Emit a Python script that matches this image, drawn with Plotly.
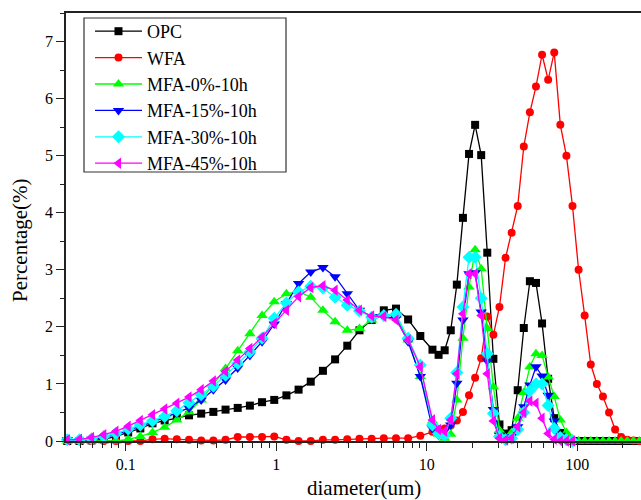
import plotly.graph_objects as go
import math

# particle diameters (um)
diameter = [0.0409, 0.0493, 0.0593, 0.0715, 0.0861, 0.1038, 0.1250, 0.1506, 0.1814, 0.2185,
            0.2633, 0.3172, 0.3821, 0.4603, 0.5545, 0.6680, 0.8048, 0.9696, 1.168, 1.407,
            1.695, 2.042, 2.460, 2.964, 3.571, 4.302, 5.183, 6.244, 7.520, 9.060,
            10.91, 11.98, 13.15, 14.43, 15.84, 17.39, 19.09, 20.95, 22.99, 25.23,
            27.70, 30.40, 33.37, 36.62, 40.20, 44.12, 48.42, 53.15, 58.33, 64.03,
            70.28, 77.13, 84.66, 92.92, 102.0, 111.9, 122.9, 134.9, 148.0, 162.5,
            178.3, 195.7, 214.8, 235.8, 258.8]

opc = [0, 0, 0.01, 0.03, 0.08, 0.15, 0.22, 0.31, 0.36, 0.41,
       0.45, 0.48, 0.51, 0.55, 0.58, 0.62, 0.68, 0.72, 0.80, 0.90,
       1.04, 1.23, 1.43, 1.67, 1.94, 2.12, 2.29, 2.32, 2.13, 1.84,
       1.60, 1.51, 1.59, 1.94, 2.74, 3.91, 5.03, 5.54, 5.01, 3.30,
       1.44, 0.29, 0.13, 0.19, 0.89, 1.98, 2.80, 2.77, 2.06, 1.09,
       0.40, 0.14, 0.04, 0, 0, 0, 0, 0, 0, 0,
       0, 0, 0, 0, 0]

wfa = [0, 0, 0, 0, 0, 0, 0, 0.03, 0.04, 0.03,
       0.02, 0.01, 0.01, 0.02, 0.07, 0.07, 0.07, 0.08, 0.02, 0.0,
       0.0, 0.02, 0.02, 0.03, 0.04, 0.04, 0.05, 0.05, 0.05, 0.09,
       0.16, 0.21, 0.22, 0.27, 0.36, 0.51, 0.80, 1.11, 1.45, 2.18,
       1.86, 2.35, 3.21, 3.65, 4.12, 5.16, 5.76, 6.21, 6.77, 6.33,
       6.81, 5.54, 5.00, 4.12, 3.00, 2.20, 1.34, 1.00, 0.78, 0.50,
       0.20, 0.07, 0.02, 0.01, 0]

mfa0 = [0, 0, 0, 0, 0, 0.03, 0.08, 0.15, 0.24, 0.37,
        0.51, 0.72, 1.00, 1.27, 1.58, 1.88, 2.20, 2.44, 2.58, 2.62,
        2.52, 2.29, 2.09, 1.94, 1.97, 2.12, 2.20, 2.20, 1.77, 1.13,
        0.35, 0.12, 0.05, 0.12, 0.72, 1.80, 2.70, 3.35, 3.02, 1.97,
        0.95, 0.19, 0.05, 0.15, 0.40, 0.85, 1.30, 1.53, 1.50, 1.12,
        0.78, 0.37, 0.15, 0.03, 0, 0, 0, 0, 0, 0,
        0, 0, 0, 0, 0]

mfa15 = [0.02, 0.01, 0.03, 0.06, 0.11, 0.18, 0.26, 0.33, 0.41, 0.49,
         0.58, 0.72, 0.90, 1.07, 1.28, 1.50, 1.74, 2.05, 2.41, 2.76,
         2.96, 3.04, 2.88, 2.58, 2.29, 2.18, 2.18, 2.15, 1.74, 1.13,
         0.22, 0.10, 0.08, 0.28, 1.01, 2.12, 2.93, 2.95, 2.26, 1.40,
         0.55, 0.10, 0.03, 0.08, 0.25, 0.60, 0.98, 1.30, 1.14, 0.80,
         0.35, 0.10, 0.02, 0, None, None, None, None, None, None,
         None, None, None, None, None]

mfa30 = [0.02, 0.02, 0.04, 0.08, 0.13, 0.21, 0.28, 0.35, 0.43, 0.53,
         0.67, 0.81, 0.96, 1.15, 1.36, 1.56, 1.80, 2.15, 2.42, 2.61,
         2.71, 2.68, 2.52, 2.38, 2.28, 2.17, 2.20, 2.22, 1.80, 1.33,
         0.28, 0.13, 0.10, 0.40, 1.20, 2.35, 3.22, 3.22, 2.50, 1.53,
         0.48, 0.08, 0.02, 0.05, 0.20, 0.50, 0.88, 1.00, 1.00, 0.62,
         0.22, 0.06, 0.02, 0, None, None, None, None, None, None,
         None, None, None, None, None]

mfa45 = [0.02, 0.03, 0.06, 0.11, 0.17, 0.26, 0.36, 0.46, 0.56, 0.66,
         0.77, 0.90, 1.05, 1.22, 1.42, 1.62, 1.82, 2.06, 2.29, 2.53,
         2.69, 2.72, 2.64, 2.47, 2.29, 2.19, 2.18, 2.12, 1.77, 1.30,
         0.37, 0.20, 0.17, 0.37, 1.18, 2.23, 2.93, 2.93, 2.20, 1.18,
         0.35, 0.05, 0.02, 0.05, 0.25, 0.50, 0.70, 0.66, 0.40, 0.13,
         0.03, 0, 0, 0, None, None, None, None, None, None,
         None, None, None, None, None]

series = [
    ("OPC", opc, "#000000", "square", 8),
    ("WFA", wfa, "#FF0000", "circle", 8),
    ("MFA-0%-10h", mfa0, "#00FF00", "triangle-up", 10),
    ("MFA-15%-10h", mfa15, "#0000FF", "triangle-down", 10),
    ("MFA-30%-10h", mfa30, "#00FFFF", "diamond", 10),
    ("MFA-45%-10h", mfa45, "#FF00FF", "triangle-left", 10),
]

FONT = "Liberation Serif"

fig = go.Figure()
for name, vals, col, sym, sz in series:
    fig.add_trace(go.Scatter(
        x=diameter, y=vals, name=name, mode="lines+markers",
        line=dict(color=col, width=1.3),
        marker=dict(symbol=sym, size=sz, color=col, line=dict(width=0)),
        cliponaxis=False, connectgaps=False,
    ))

minor_vals = [m * 10 ** e for e in range(-2, 3) for m in range(2, 10)]

W, H = 641, 500
L, R, T, B = 66, 0, 13, 59
pw, ph = W - L - R, H - T - B

def px2paper_x(px):
    return (px - L) / pw

def px2paper_y(py):
    return (H - B - py) / ph

fig.update_layout(
    width=W, height=H,
    margin=dict(l=L, r=R, t=T, b=B, pad=0),
    paper_bgcolor="white", plot_bgcolor="white",
    font=dict(family=FONT, size=16, color="#000000"),
    showlegend=True,
    legend=dict(
        x=px2paper_x(90), y=px2paper_y(13), xanchor="left", yanchor="top",
        bgcolor="rgba(0,0,0,0)", borderwidth=0,
        font=dict(family=FONT, size=18, color="#000000"),
        itemwidth=47, tracegroupgap=0,
    ),
    xaxis=dict(
        type="log", range=[math.log10(0.0401), math.log10(265)],
        showgrid=False, zeroline=False,
        showline=True, linecolor="#222222", linewidth=1.5, mirror=True,
        ticks="outside", ticklen=8, tickwidth=1.2, tickcolor="#222222",
        tickvals=[0.1, 1, 10, 100], ticktext=["0.1", "1", "10", "100"],
        tickfont=dict(family=FONT, size=16, color="#000000"),
        minor=dict(tickvals=minor_vals, ticks="outside", ticklen=5,
                   tickwidth=1, tickcolor="#222222", showgrid=False),
    ),
    yaxis=dict(
        range=[0, 7.5], showgrid=False, zeroline=False,
        showline=True, linecolor="#222222", linewidth=1.5, mirror=False,
        ticks="outside", ticklen=8, tickwidth=1.2, tickcolor="#222222",
        tickvals=[0, 1, 2, 3, 4, 5, 6, 7],
        tickfont=dict(family=FONT, size=16, color="#000000"),
        minor=dict(dtick=0.5, ticks="outside", ticklen=4, tickwidth=1,
                   tickcolor="#222222", showgrid=False),
    ),
    shapes=[dict(
        type="rect", xref="paper", yref="paper",
        x0=px2paper_x(84), x1=px2paper_x(286),
        y0=px2paper_y(172), y1=px2paper_y(18),
        line=dict(color="#333333", width=1.2), fillcolor="rgba(0,0,0,0)",
    )],
    annotations=[
        dict(text="Percentage(%)", xref="paper", yref="paper",
             x=px2paper_x(20), y=px2paper_y(240), xanchor="center", yanchor="middle",
             textangle=-90, showarrow=False,
             font=dict(family=FONT, size=21, color="#000000")),
        dict(text="diameter(um)", xref="paper", yref="paper",
             x=px2paper_x(364), y=px2paper_y(488), xanchor="center", yanchor="middle",
             showarrow=False,
             font=dict(family=FONT, size=21, color="#000000")),
    ],
)

fig.write_html("out.html")
